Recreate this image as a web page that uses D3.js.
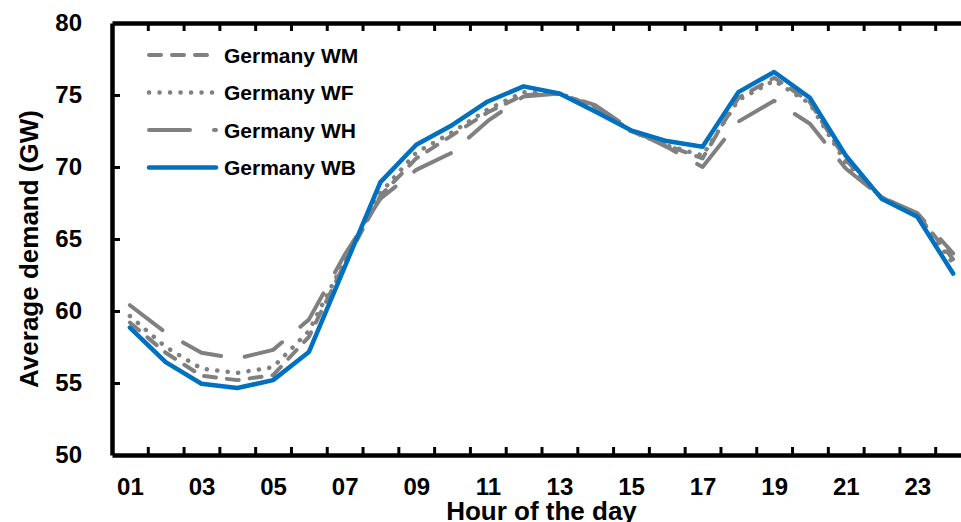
<!DOCTYPE html>
<html>
<head>
<meta charset="utf-8">
<script src="https://cdn.jsdelivr.net/npm/d3@7"></script>
<style>
  body { margin: 0; background: #fff; }
  svg text { font-family: "Liberation Sans", Arial, sans-serif; font-weight: bold; fill: #000; }
</style>
</head>
<body>
<script>
// hour of the day
var hours = ["01","02","03","04","05","06","07","08","09","10","11","12",
             "13","14","15","16","17","18","19","20","21","22","23","24"];
var hourLabels = ["01","03","05","07","09","11","13","15","17","19","21","23"];
var yTicks = [50, 55, 60, 65, 70, 75, 80];

// average demand (GW)
var germanyWM = [59.2, 57.1, 55.5, 55.2, 55.55, 58.2, 63.3, 68.0, 70.6, 72.2, 73.8, 75.0,
                 75.1, 74.2, 72.5, 71.5, 70.6, 74.8, 76.2, 74.5, 70.5, 67.9, 66.7, 63.6];
var germanyWF = [59.65, 57.5, 56.0, 55.7, 56.1, 58.6, 63.5, 68.2, 71.0, 72.4, 74.0, 75.2,
                 75.1, 74.2, 72.5, 71.5, 70.8, 74.65, 76.0, 74.4, 70.3, 67.9, 66.7, 63.3];
var germanyWH = [60.4, 58.5, 57.1, 56.7, 57.3, 59.4, 63.9, 67.8, 69.8, 71.0, 73.2, 74.9,
                 75.1, 74.3, 72.6, 71.4, 70.0, 73.15, 74.6, 73.0, 69.9, 67.9, 66.8, 64.0];
var germanyWB = [58.85, 56.45, 54.95, 54.65, 55.2, 57.15, 63.05, 68.95, 71.55, 72.9, 74.55, 75.6,
                 75.1, 73.85, 72.55, 71.8, 71.4, 75.2, 76.6, 74.8, 70.8, 67.8, 66.55, 62.6];

var series = [
  {name: "Germany WM", values: germanyWM, color: "#808080", width: 4, dash: "12 11"},
  {name: "Germany WF", values: germanyWF, color: "#808080", width: 4.5, dash: "0.1 10.4"},
  {name: "Germany WH", values: germanyWH, color: "#808080", width: 4, dash: "41 24"},
  {name: "Germany WB", values: germanyWB, color: "#0070C0", width: 4.5, dash: null}
];

var width = 961, height = 522;
var plotLeft = 112, plotTop = 23, plotBottom = 455, plotRight = 971;

var svg = d3.select("body").append("svg").attr("width", width).attr("height", height);

var x = d3.scaleBand().domain(hours).range([plotLeft, plotRight]);
var xc = function(h) { return x(h) + x.bandwidth() / 2; };
var y = d3.scaleLinear().domain([50, 80]).range([plotBottom, plotTop]);

// category boundaries for the tick marks
var edges = d3.scaleLinear().domain([0, hours.length]).range([plotLeft, plotRight]);
var edgeValues = d3.range(1, hours.length);

function styleAxis(g) {
  g.select(".domain").attr("stroke", "#000").attr("stroke-width", 4.5);
  g.selectAll(".tick line").attr("stroke", "#000").attr("stroke-width", 3);
  g.selectAll("text").attr("font-size", 24).attr("fill", "#000");
}

// top frame line
svg.append("g").attr("transform", "translate(0," + plotTop + ")")
  .call(d3.axisTop(edges).tickValues(edgeValues).tickSize(-8).tickSizeOuter(0).tickFormat(""))
  .call(styleAxis);

// bottom axis ticks
svg.append("g").attr("transform", "translate(0," + plotBottom + ")")
  .call(d3.axisBottom(edges).tickValues(edgeValues).tickSize(-8).tickSizeOuter(0).tickFormat(""))
  .call(styleAxis);

// bottom labels
svg.append("g").attr("transform", "translate(0," + plotBottom + ")")
  .call(d3.axisBottom(d3.scalePoint().domain(hours).range([xc(hours[0]), xc(hours[23])]))
    .tickValues(hourLabels).tickSize(0).tickPadding(23))
  .call(function(g) { g.select(".domain").remove(); })
  .call(styleAxis);

// left axis
svg.append("g").attr("transform", "translate(" + plotLeft + ",0)")
  .call(d3.axisLeft(y).tickValues(yTicks).tickSize(-8).tickSizeOuter(0).tickPadding(30))
  .call(styleAxis)
  .call(function(g) { g.selectAll(".tick line").filter(function(d) { return d === 50 || d === 80; }).remove(); });

// lines
var line = d3.line()
  .x(function(d, i) { return xc(hours[i]); })
  .y(function(d) { return y(d); });

svg.append("g").selectAll("path")
  .data(series)
  .enter().append("path")
  .attr("d", function(s) { return line(s.values); })
  .attr("fill", "none")
  .attr("stroke", function(s) { return s.color; })
  .attr("stroke-width", function(s) { return s.width; })
  .attr("stroke-dasharray", function(s) { return s.dash; })
  .attr("stroke-linecap", "round")
  .attr("stroke-linejoin", "round");

// legend
var legend = svg.append("g").selectAll("g")
  .data(series)
  .enter().append("g")
  .attr("transform", function(s, i) { return "translate(149," + (55 + i * 37.5) + ")"; });

legend.append("line")
  .attr("x1", 0).attr("x2", 67).attr("y1", 0).attr("y2", 0)
  .attr("stroke", function(s) { return s.color; })
  .attr("stroke-width", function(s) { return s.width; })
  .attr("stroke-dasharray", function(s) { return s.dash; })
  .attr("stroke-linecap", "round");

legend.append("text")
  .attr("x", 75).attr("dy", "0.36em")
  .attr("font-size", 21)
  .text(function(s) { return s.name; });

// axis titles
svg.append("text")
  .attr("transform", "translate(38," + ((plotTop + plotBottom) / 2 + 10) + ") rotate(-90)")
  .attr("text-anchor", "middle")
  .attr("font-size", 26)
  .text("Average demand (GW)");

svg.append("text")
  .attr("x", (plotLeft + plotRight) / 2).attr("y", 520)
  .attr("text-anchor", "middle")
  .attr("font-size", 26)
  .text("Hour of the day");
</script>
</body>
</html>
